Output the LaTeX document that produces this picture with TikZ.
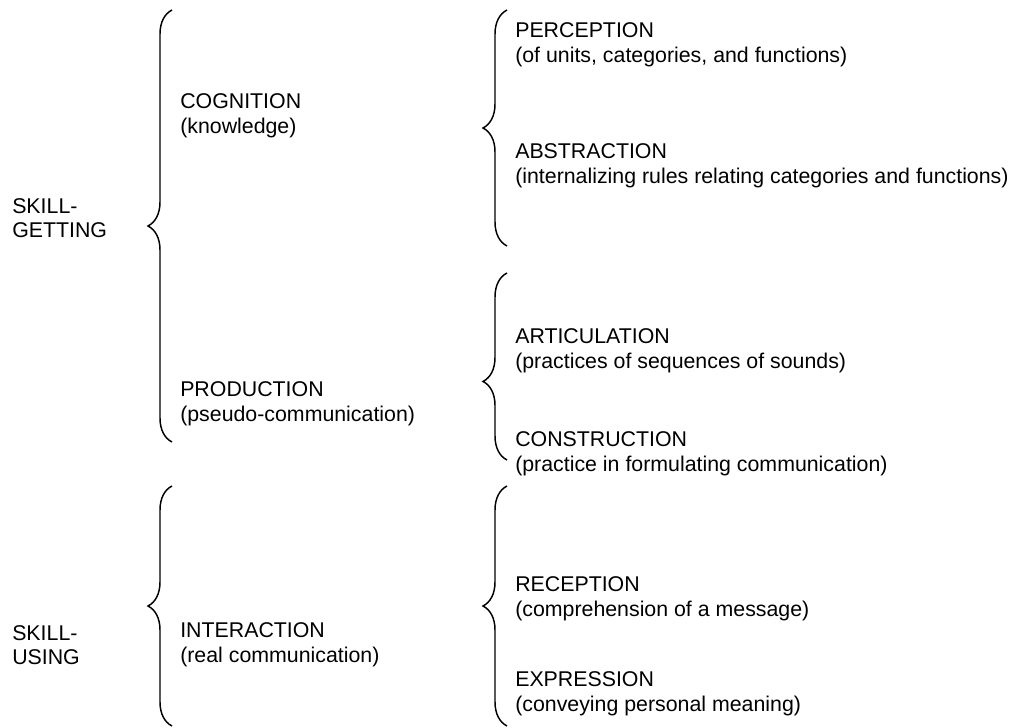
\documentclass[tikz,border=0pt]{standalone}
\usepackage{fontspec}
\setmainfont{Liberation Sans}
\usetikzlibrary{decorations.pathreplacing}

\begin{document}
\begin{tikzpicture}[x=0.75pt, y=-0.75pt,
		font=\fontsize{16}{18.5}\selectfont,
		lbl/.style={anchor=west, align=left, inner sep=0pt},
		curly/.style={line width=1.1pt, decorate, decoration={brace, amplitude=18pt}}]
		\useasboundingbox (0, 0) rectangle (1012, 727);

		% left column
		\node[lbl] (getting) at (12, 218) {SKILL-\\GETTING};
		\node[lbl] (using) at (12, 645) {SKILL-\\USING};

		% middle column
		\node[lbl] (cognition) at (180, 116) {COGNITION\\(knowledge)};
		\node[lbl] (production) at (180, 404) {PRODUCTION\\(pseudo-communication)};
		\node[lbl] (interaction) at (180, 645) {INTERACTION\\(real communication)};

		% right column
		\node[lbl] (perception) at (515, 45) {PERCEPTION\\(of units, categories, and functions)};
		\node[lbl] (abstraction) at (515, 166) {ABSTRACTION\\(internalizing rules relating categories and functions)};
		\node[lbl] (articulation) at (515, 351) {ARTICULATION\\(practices of sequences of sounds)};
		\node[lbl] (construction) at (515, 454) {CONSTRUCTION\\(practice in formulating communication)};
		\node[lbl] (reception) at (515, 599) {RECEPTION\\(comprehension of a message)};
		\node[lbl] (expression) at (515, 694) {EXPRESSION\\(conveying personal meaning)};

		% brace ends
		\coordinate (gt) at (172, 10);
		\coordinate (gb) at (172, 442);
		\coordinate (ct) at (507, 10);
		\coordinate (cb) at (507, 246);
		\coordinate (pt) at (507, 273);
		\coordinate (pb) at (507, 460);
		\coordinate (ut) at (172, 486);
		\coordinate (ub) at (172, 726);
		\coordinate (it) at (507, 486);
		\coordinate (ib) at (507, 726);

		\draw[curly] (gb) -- (gt);
		\draw[curly] (cb) -- (ct);
		\draw[curly, decoration={aspect=0.42}] (pb) -- (pt);
		\draw[curly] (ub) -- (ut);
		\draw[curly] (ib) -- (it);
	\end{tikzpicture}
\end{document}
